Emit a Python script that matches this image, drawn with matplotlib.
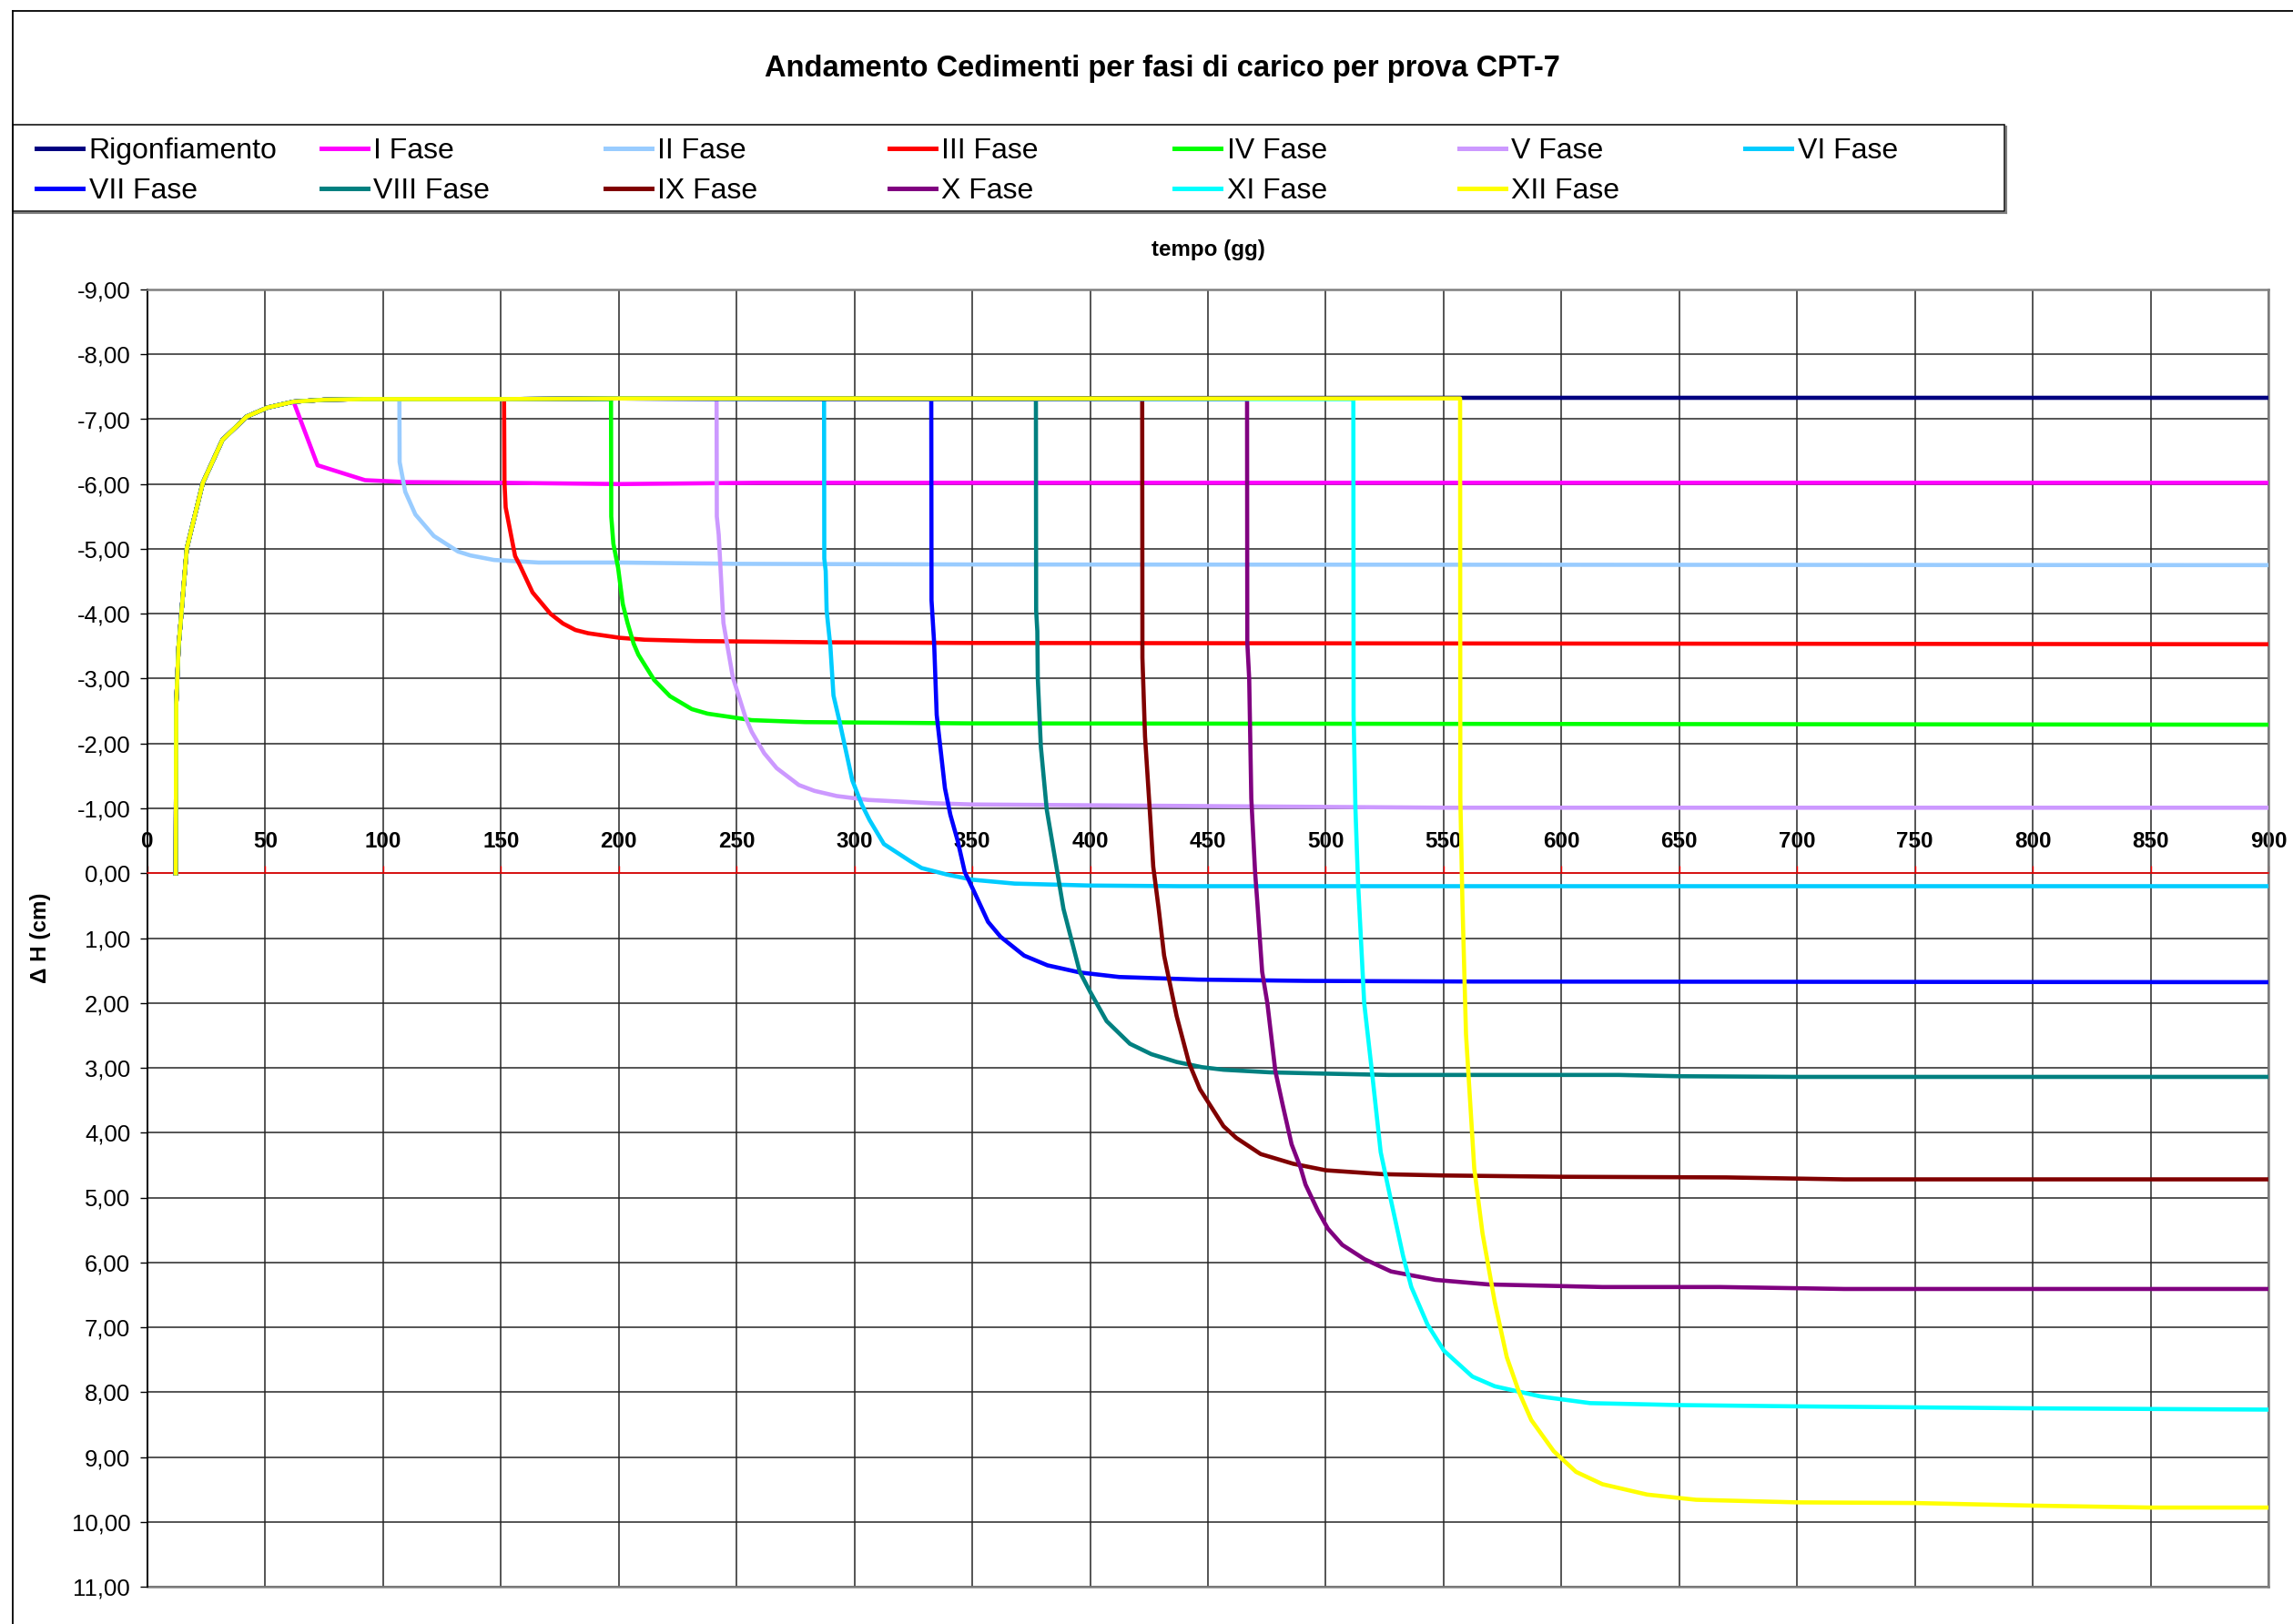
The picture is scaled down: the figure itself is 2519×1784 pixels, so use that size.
import matplotlib
matplotlib.use("Agg")
import matplotlib.pyplot as plt
from matplotlib.lines import Line2D
from matplotlib.patches import Rectangle

plt.rcParams['font.family'] = ['Liberation Sans', 'DejaVu Sans']

W, H = 2519, 1784

TITLE = "Andamento Cedimenti per fasi di carico per prova CPT-7"
X_LABEL = "tempo (gg)"
Y_LABEL = "Δ H (cm)"

LABELS = ["Rigonfiamento", "I Fase", "II Fase", "III Fase", "IV Fase", "V Fase", "VI Fase",
          "VII Fase", "VIII Fase", "IX Fase", "X Fase", "XI Fase", "XII Fase"]
COLORS = ["#000080", "#FF00FF", "#99CCFF", "#FF0000", "#00FF00", "#CC99FF", "#00CCFF",
          "#0000FF", "#008080", "#800000", "#800080", "#00FFFF", "#FFFF00"]

X_TICKS = list(range(0, 901, 50))
Y_TICKS = list(range(-9, 12))

# Rigonfiamento (swelling) curve, shared by all phases before their start
RIG_T = [12, 12.2, 13.2, 16.7, 23.5, 31.8, 42.1, 51, 62, 75, 92, 150, 200, 560, 900]
RIG_H = [0, -2.6, -3.49, -5.01, -6.02, -6.68, -7.04, -7.18, -7.27, -7.30, -7.31, -7.31, -7.32, -7.33, -7.33]

T1 = [62, 72.2, 92.3, 110, 150, 200, 260, 400, 900]
H1 = [-7.27, -6.29, -6.06, -6.03, -6.02, -6.0, -6.02, -6.02, -6.02]

T2 = [106.9, 107, 109.4, 113.7, 121.5, 131.8, 137, 147, 166, 200, 250, 350, 900]
H2 = [-7.31, -6.34, -5.88, -5.53, -5.2, -4.96, -4.9, -4.83, -4.79, -4.79, -4.77, -4.76, -4.75]

T3 = [151.3, 151.5, 152, 156, 158, 163.4, 171, 176.3, 181.6, 187, 200.3, 211, 232.4, 288, 350, 900]
H3 = [-7.31, -6.02, -5.64, -4.89, -4.75, -4.33, -4.0, -3.85, -3.75, -3.70, -3.63, -3.60, -3.58, -3.56, -3.55, -3.53]

T4 = [196.7, 196.8, 197.7, 199.7, 201.7, 203.7, 206.3, 208.3, 215, 221.7, 231, 237.7, 256.4, 279, 350, 900]
H4 = [-7.31, -5.50, -5.08, -4.71, -4.15, -3.86, -3.54, -3.37, -2.98, -2.73, -2.53, -2.46, -2.36, -2.33, -2.31, -2.29]

T5 = [241.5, 241.6, 242.4, 244.4, 248.4, 253.7, 256.4, 261.7, 267, 276.4, 283, 292.5, 305.8, 332.5, 350, 550, 900]
H5 = [-7.31, -5.50, -5.22, -3.86, -3.02, -2.41, -2.18, -1.85, -1.62, -1.36, -1.27, -1.19, -1.13, -1.08, -1.06, -1.01, -1.01]

T6 = [287.1, 287.2, 287.8, 288.2, 289.8, 291.1, 293.8, 299.1, 303.1, 306.4, 312.5, 323.9, 328.5, 339.2, 350, 368, 400, 438, 900]
H6 = [-7.31, -4.85, -4.66, -4.05, -3.49, -2.74, -2.32, -1.43, -1.06, -0.82, -0.45, -0.18, -0.08, 0.02, 0.10, 0.16, 0.19, 0.20, 0.20]

T7 = [332.6, 332.7, 333.8, 334.9, 338.4, 340.7, 343.8, 346.8, 350.6, 356.7, 362, 372, 381.9, 395.6, 412.3, 445.9, 491.6, 563, 900]
H7 = [-7.31, -4.21, -3.56, -2.44, -1.31, -0.90, -0.50, -0.02, 0.27, 0.75, 0.98, 1.27, 1.42, 1.53, 1.60, 1.64, 1.66, 1.67, 1.68]

T8 = [377, 377.1, 377.6, 377.8, 379.1, 381.6, 385.7, 388.7, 395.6, 400.2, 407, 416.9, 426, 436.7, 447.4, 456.6, 476.4, 500, 526.7, 624.3, 650, 700, 900]
H8 = [-7.31, -4.05, -3.73, -3.0, -1.95, -0.98, -0.10, 0.55, 1.52, 1.84, 2.28, 2.63, 2.79, 2.91, 2.99, 3.03, 3.07, 3.09, 3.11, 3.11, 3.13, 3.14, 3.14]

T9 = [422.1, 422.2, 423.3, 425.3, 426.8, 429.1, 431.4, 436.7, 442, 446.6, 456.6, 462, 472.4, 486.2, 500, 524.2, 550, 600, 670, 720, 900]
H9 = [-7.31, -3.32, -2.11, -0.98, -0.10, 0.55, 1.27, 2.20, 2.93, 3.33, 3.90, 4.08, 4.33, 4.48, 4.58, 4.64, 4.66, 4.68, 4.69, 4.72, 4.72]

T10 = [466.6, 466.7, 467.5, 468.4, 470, 471, 473, 475.2, 478.6, 481.7, 485.5, 489.3, 491.4, 496.6, 500.9, 507, 516.4, 527.7, 546.6, 569, 617.4, 667.4, 720, 900]
H10 = [-7.31, -3.56, -3.0, -1.15, -0.02, 0.47, 1.52, 2.0, 3.05, 3.57, 4.18, 4.54, 4.80, 5.20, 5.48, 5.73, 5.95, 6.14, 6.27, 6.34, 6.38, 6.38, 6.41, 6.41]

T11 = [511.7, 511.8, 512.6, 513.7, 516.3, 519.8, 523.3, 527.7, 532.8, 536.3, 543.2, 550.1, 562.2, 571.7, 591.5, 612.2, 650, 700, 800, 900]
H11 = [-7.31, -2.44, -0.98, 0.15, 2.0, 3.13, 4.30, 5.05, 5.90, 6.38, 6.96, 7.36, 7.76, 7.91, 8.07, 8.17, 8.20, 8.22, 8.25, 8.27]

T12 = [557, 557.1, 558, 559.5, 563, 566.5, 571.7, 576.8, 582, 587.2, 596.7, 606.2, 617.4, 636.4, 657.1, 700, 750, 800, 850, 900]
H12 = [-7.32, -1.15, 0.47, 2.48, 4.55, 5.55, 6.61, 7.46, 8.0, 8.43, 8.91, 9.23, 9.42, 9.58, 9.66, 9.70, 9.71, 9.75, 9.78, 9.78]

PHASES = [(T1, H1), (T2, H2), (T3, H3), (T4, H4), (T5, H5), (T6, H6),
          (T7, H7), (T8, H8), (T9, H9), (T10, H10), (T11, H11), (T12, H12)]

series = [(RIG_T, RIG_H)]
for T, Hh in PHASES:
    start = T[0]
    pre_t = [t for t in RIG_T if t < start]
    pre_h = [h for t, h in zip(RIG_T, RIG_H) if t < start]
    series.append((pre_t + T, pre_h + Hh))

fig = plt.figure(figsize=(W / 100, H / 100), dpi=100)
fig.patch.set_facecolor("white")

ax_l, ax_r, ax_t, ax_b = 162, 2492, 318, 1743
ax = fig.add_axes([ax_l / W, 1 - ax_b / H, (ax_r - ax_l) / W, (ax_b - ax_t) / H])

for (xs, ys), lab, col in zip(series, LABELS, COLORS):
    ax.plot(xs, ys, color=col, lw=3.3, label=lab, solid_joinstyle="round", zorder=3)

ax.set_xlim(0, 900)
ax.set_ylim(11, -9)

# spines first (set_position resets the ticks)
ax.spines["bottom"].set_position(("data", 0))
ax.spines["bottom"].set_color("#FF0000")
ax.spines["bottom"].set_linewidth(1.1)
ax.spines["bottom"].set_zorder(2.5)
ax.spines["left"].set_color("black")
ax.spines["left"].set_linewidth(1.4)
for s in ("top", "right"):
    ax.spines[s].set_color("#808080")
    ax.spines[s].set_linewidth(1.8)
ax.axhline(11, color="#808080", lw=1.8, clip_on=False, zorder=2.5)

ax.tick_params(axis="x", direction="in", length=5.5, width=1.0, color="#FF0000", pad=-33.5, labelsize=17.5)
ax.tick_params(axis="y", direction="out", length=5.5, width=1.0, color="black", pad=8, labelsize=18.5)

ax.set_xticks(X_TICKS, [str(t) for t in X_TICKS], fontweight="bold", fontsize=17.5)
ax.set_yticks(Y_TICKS, [f"{v:.2f}".replace(".", ",") for v in Y_TICKS], fontsize=18.5)

ax.grid(True, color="#262626", lw=1.1)
ax.set_axisbelow(True)

ax.set_xlabel(X_LABEL, fontsize=17.4, fontweight="bold", va="center")
ax.xaxis.set_label_coords(0.5, (ax_b - 275) / (ax_b - ax_t))
ax.set_ylabel(Y_LABEL, fontsize=17.4, fontweight="bold", va="center")
ax.yaxis.set_label_coords((45 - ax_l) / (ax_r - ax_l), 0.5)

fig.text(1277 / W, 1 - 75.5 / H, TITLE, fontsize=23.5, fontweight="bold", ha="center", va="center")

# outer chart border (left and top visible)
fig.add_artist(Line2D([14 / W, 14 / W], [0, 1 - 12 / H], transform=fig.transFigure, color="black", lw=1.3))
fig.add_artist(Line2D([14 / W, 1], [1 - 12 / H, 1 - 12 / H], transform=fig.transFigure, color="black", lw=1.3))

# legend box
lx0, lx1, ly0, ly1 = 14, 2202, 137, 232
fig.add_artist(Rectangle((lx0 / W, 1 - ly1 / H), (lx1 - lx0) / W, (ly1 - ly0) / H,
                         transform=fig.transFigure, fill=False, ec="black", lw=1.1))
fig.add_artist(Line2D([(lx0 + 2) / W, (lx1 + 2) / W], [1 - (ly1 + 2) / H] * 2,
                      transform=fig.transFigure, color="#808080", lw=1.5))
fig.add_artist(Line2D([(lx1 + 2) / W] * 2, [1 - (ly1 + 2) / H, 1 - (ly0 + 2) / H],
                      transform=fig.transFigure, color="#808080", lw=1.5))

handles = [Line2D([], [], color=c, lw=3.6) for c in COLORS]
col_x = [40, 353, 665, 977, 1290, 1603, 1917]
for ci, cx in enumerate(col_x):
    idx = [ci, ci + 7] if ci + 7 < len(LABELS) else [ci]
    fig.legend([handles[i] for i in idx], [LABELS[i] for i in idx],
               loc="upper left", bbox_to_anchor=(cx / W, 1 - 151 / H),
               frameon=False, fontsize=23, handlelength=1.6, handletextpad=0.2,
               borderpad=0, borderaxespad=0, labelspacing=0.45)

fig.savefig("out.png", dpi=100, facecolor="white")
